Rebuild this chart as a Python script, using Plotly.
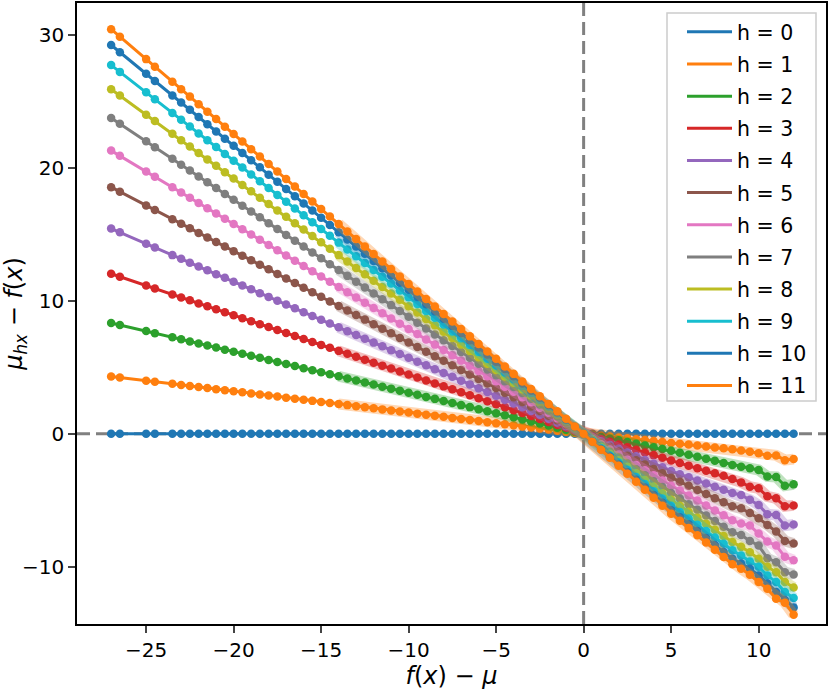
import plotly.graph_objects as go

# x positions: f(x) - mu
X = [-27, -26.5, -25, -24.5, -23.5, -23, -22.5, -22, -21.5, -21, -20.5, -20,
     -19.5, -19, -18.5, -18, -17.5, -17, -16.5, -16, -15.5, -15, -14.5, -14,
     -13.5, -13, -12.5, -12, -11.5, -11, -10.5, -10, -9.5, -9, -8.5, -8,
     -7.5, -7, -6.5, -6, -5.5, -5, -4.5, -4, -3.5, -3, -2.5, -2, -1.5, -1, -0.5, 0,
     0.5, 1, 1.5, 2, 2.5, 3, 3.5, 4, 4.5, 5, 5.5, 6,
     6.5, 7, 7.5, 8, 8.5, 9, 9.5, 10, 10.5, 11, 11.5, 12]

Y_H0 = [0.0, 0.0, 0.0, 0.0, 0.0, 0.0, 0.0, 0.0, 0.0, 0.0, 0.0, 0.0,
        0.0, 0.0, 0.0, 0.0, 0.0, 0.0, 0.0, 0.0, 0.0, 0.0, 0.0, 0.0,
        0.0, 0.0, 0.0, 0.0, 0.0, 0.0, 0.0, 0.0, 0.0, 0.0, 0.0, 0.0,
        0.0, 0.0, 0.0, 0.0, 0.0, 0.0, 0.0, 0.0, 0.0, 0.0, 0.0, 0.0, 0.0, 0.0, 0.0, 0.0,
        0.0, 0.0, 0.0, 0.0, 0.0, 0.0, 0.0, 0.0, 0.0, 0.0, 0.0, 0.0,
        0.0, 0.0, 0.0, 0.0, 0.0, 0.0, 0.0, 0.0, 0.0, 0.0, 0.0, 0.0]

Y_H1 = [4.32, 4.24, 4.00, 3.92, 3.76, 3.68, 3.60, 3.52, 3.44, 3.36, 3.28, 3.20,
        3.12, 3.04, 2.96, 2.88, 2.80, 2.72, 2.64, 2.56, 2.48, 2.40, 2.32, 2.24,
        2.16, 2.08, 2.00, 1.92, 1.84, 1.76, 1.68, 1.60, 1.52, 1.44, 1.36, 1.28,
        1.20, 1.12, 1.04, 0.96, 0.88, 0.80, 0.72, 0.64, 0.56, 0.48, 0.40, 0.32, 0.24, 0.16, 0.08, 0.00,
        -0.07, -0.14, -0.20, -0.27, -0.34, -0.41, -0.47, -0.54, -0.61, -0.68, -0.75, -0.81,
        -0.88, -0.95, -1.02, -1.08, -1.15, -1.25, -1.35, -1.45, -1.65, -1.62, -1.98, -1.90]

Y_H2 = [8.34, 8.19, 7.73, 7.57, 7.26, 7.11, 6.95, 6.80, 6.64, 6.49, 6.33, 6.18,
        6.03, 5.87, 5.72, 5.56, 5.41, 5.25, 5.10, 4.94, 4.79, 4.64, 4.48, 4.33,
        4.17, 4.02, 3.86, 3.71, 3.55, 3.40, 3.24, 3.09, 2.94, 2.78, 2.63, 2.47,
        2.32, 2.16, 2.01, 1.85, 1.70, 1.55, 1.39, 1.24, 1.08, 0.93, 0.77, 0.62, 0.46, 0.31, 0.15, 0.00,
        -0.12, -0.24, -0.37, -0.49, -0.62, -0.75, -0.88, -1.01, -1.14, -1.28, -1.43, -1.58,
        -1.73, -1.88, -2.03, -2.19, -2.34, -2.47, -2.59, -2.72, -3.20, -3.24, -3.90, -3.80]

Y_H3 = [12.04, 11.82, 11.15, 10.93, 10.48, 10.26, 10.04, 9.81, 9.59, 9.37, 9.14, 8.92,
        8.70, 8.47, 8.25, 8.03, 7.81, 7.58, 7.36, 7.14, 6.91, 6.69, 6.47, 6.24,
        6.02, 5.80, 5.58, 5.35, 5.13, 4.91, 4.68, 4.46, 4.24, 4.01, 3.79, 3.57,
        3.35, 3.12, 2.90, 2.68, 2.45, 2.23, 2.01, 1.78, 1.56, 1.34, 1.12, 0.89, 0.67, 0.45, 0.22, 0.00,
        -0.20, -0.40, -0.60, -0.80, -1.00, -1.20, -1.40, -1.60, -1.80, -2.00, -2.19, -2.39,
        -2.58, -2.77, -2.96, -3.16, -3.40, -3.65, -3.98, -4.10, -4.70, -4.85, -5.45, -5.38]

Y_H4 = [15.44, 15.16, 14.30, 14.01, 13.44, 13.16, 12.87, 12.58, 12.30, 12.01, 11.73, 11.44,
        11.15, 10.87, 10.58, 10.30, 10.01, 9.72, 9.44, 9.15, 8.87, 8.58, 8.29, 8.01,
        7.72, 7.44, 7.15, 6.86, 6.58, 6.29, 6.01, 5.72, 5.43, 5.15, 4.86, 4.58,
        4.29, 4.00, 3.72, 3.43, 3.15, 2.86, 2.57, 2.29, 2.00, 1.72, 1.43, 1.14, 0.86, 0.57, 0.29, 0.00,
        -0.28, -0.56, -0.84, -1.12, -1.40, -1.68, -1.96, -2.24, -2.52, -2.80, -3.04, -3.27,
        -3.51, -3.74, -3.98, -4.21, -4.45, -4.60, -4.95, -5.35, -6.05, -6.10, -6.90, -6.82]

Y_H5 = [18.55, 18.21, 17.18, 16.83, 16.14, 15.80, 15.46, 15.11, 14.77, 14.43, 14.08, 13.74,
        13.40, 13.05, 12.71, 12.37, 12.02, 11.68, 11.34, 10.99, 10.65, 10.31, 9.96, 9.62,
        9.27, 8.93, 8.59, 8.24, 7.90, 7.56, 7.21, 6.87, 6.53, 6.18, 5.84, 5.50,
        5.15, 4.81, 4.47, 4.12, 3.78, 3.44, 3.09, 2.75, 2.40, 2.06, 1.72, 1.37, 1.03, 0.69, 0.34, 0.00,
        -0.33, -0.66, -0.99, -1.32, -1.65, -1.98, -2.31, -2.64, -2.97, -3.30, -3.61, -3.91,
        -4.22, -4.53, -4.84, -5.14, -5.45, -5.60, -5.95, -6.35, -6.85, -7.35, -8.05, -8.25]

Y_H6 = [21.30, 20.91, 19.73, 19.33, 18.54, 18.15, 17.75, 17.36, 16.96, 16.57, 16.17, 15.78,
        15.39, 14.99, 14.60, 14.20, 13.81, 13.41, 13.02, 12.62, 12.23, 11.84, 11.44, 11.05,
        10.65, 10.26, 9.86, 9.47, 9.07, 8.68, 8.28, 7.89, 7.50, 7.10, 6.71, 6.31,
        5.92, 5.52, 5.13, 4.73, 4.34, 3.95, 3.55, 3.16, 2.76, 2.37, 1.97, 1.58, 1.18, 0.79, 0.39, 0.00,
        -0.39, -0.78, -1.17, -1.56, -1.95, -2.34, -2.73, -3.12, -3.51, -3.90, -4.27, -4.64,
        -5.01, -5.39, -5.76, -6.13, -6.50, -6.75, -6.90, -7.50, -8.10, -8.40, -9.25, -9.50]

Y_H7 = [23.76, 23.32, 22.00, 21.56, 20.68, 20.24, 19.80, 19.36, 18.92, 18.48, 18.04, 17.60,
        17.16, 16.72, 16.28, 15.84, 15.40, 14.96, 14.52, 14.08, 13.64, 13.20, 12.76, 12.32,
        11.88, 11.44, 11.00, 10.56, 10.12, 9.68, 9.24, 8.80, 8.36, 7.92, 7.48, 7.04,
        6.60, 6.16, 5.72, 5.28, 4.84, 4.40, 3.96, 3.52, 3.08, 2.64, 2.20, 1.76, 1.32, 0.88, 0.44, 0.00,
        -0.45, -0.89, -1.34, -1.78, -2.23, -2.67, -3.12, -3.56, -4.00, -4.45, -4.87, -5.29,
        -5.71, -6.14, -6.56, -6.98, -7.40, -7.60, -8.05, -8.40, -9.35, -9.65, -10.40, -10.57]

Y_H8 = [25.92, 25.44, 24.00, 23.52, 22.56, 22.08, 21.60, 21.12, 20.64, 20.16, 19.68, 19.20,
        18.72, 18.24, 17.76, 17.28, 16.80, 16.32, 15.84, 15.36, 14.88, 14.40, 13.92, 13.44,
        12.96, 12.48, 12.00, 11.52, 11.04, 10.56, 10.08, 9.60, 9.12, 8.64, 8.16, 7.68,
        7.20, 6.72, 6.24, 5.76, 5.28, 4.80, 4.32, 3.84, 3.36, 2.88, 2.40, 1.92, 1.44, 0.96, 0.48, 0.00,
        -0.50, -0.99, -1.49, -1.98, -2.48, -2.97, -3.47, -3.96, -4.46, -4.95, -5.40, -5.86,
        -6.31, -6.77, -7.22, -7.68, -8.13, -8.50, -8.90, -9.40, -10.00, -10.40, -11.15, -11.55]

Y_H9 = [27.73, 27.22, 25.68, 25.16, 24.13, 23.62, 23.11, 22.59, 22.08, 21.57, 21.05, 20.54,
        20.03, 19.51, 19.00, 18.49, 17.97, 17.46, 16.95, 16.43, 15.92, 15.41, 14.89, 14.38,
        13.86, 13.35, 12.84, 12.32, 11.81, 11.30, 10.78, 10.27, 9.76, 9.24, 8.73, 8.22,
        7.70, 7.19, 6.68, 6.16, 5.65, 5.14, 4.62, 4.11, 3.59, 3.08, 2.57, 2.05, 1.54, 1.03, 0.51, 0.00,
        -0.54, -1.08, -1.62, -2.16, -2.70, -3.24, -3.78, -4.32, -4.86, -5.40, -5.88, -6.36,
        -6.84, -7.31, -7.79, -8.27, -8.75, -9.15, -9.60, -10.00, -10.65, -11.15, -11.90, -12.35]

Y_H10 = [29.24, 28.70, 27.08, 26.53, 25.45, 24.91, 24.37, 23.83, 23.28, 22.74, 22.20, 21.66,
         21.12, 20.58, 20.04, 19.49, 18.95, 18.41, 17.87, 17.33, 16.79, 16.25, 15.70, 15.16,
         14.62, 14.08, 13.54, 13.00, 12.45, 11.91, 11.37, 10.83, 10.29, 9.75, 9.21, 8.66,
         8.12, 7.58, 7.04, 6.50, 5.96, 5.42, 4.87, 4.33, 3.79, 3.25, 2.71, 2.17, 1.62, 1.08, 0.54, 0.00,
         -0.58, -1.15, -1.73, -2.30, -2.88, -3.45, -4.03, -4.60, -5.18, -5.75, -6.27, -6.79,
         -7.31, -7.84, -8.36, -8.88, -9.40, -9.75, -10.15, -10.65, -11.25, -11.90, -12.50, -13.05]

Y_H11 = [30.43, 29.87, 28.18, 27.61, 26.48, 25.92, 25.36, 24.79, 24.23, 23.67, 23.10, 22.54,
         21.98, 21.41, 20.85, 20.29, 19.72, 19.16, 18.60, 18.03, 17.47, 16.91, 16.34, 15.78,
         15.21, 14.65, 14.09, 13.52, 12.96, 12.40, 11.83, 11.27, 10.71, 10.14, 9.58, 9.02,
         8.45, 7.89, 7.33, 6.76, 6.20, 5.64, 5.07, 4.51, 3.94, 3.38, 2.82, 2.25, 1.69, 1.13, 0.56, 0.00,
         -0.60, -1.20, -1.80, -2.40, -3.00, -3.60, -4.20, -4.80, -5.40, -6.00, -6.54, -7.09,
         -7.63, -8.17, -8.71, -9.26, -9.80, -10.15, -10.60, -11.15, -11.65, -12.40, -12.70, -13.60]

SERIES = [Y_H0, Y_H1, Y_H2, Y_H3, Y_H4, Y_H5, Y_H6, Y_H7, Y_H8, Y_H9, Y_H10, Y_H11]
LABELS = ["h = %d" % i for i in range(len(SERIES))]
X_TICKS = [-25, -20, -15, -10, -5, 0, 5, 10]
Y_TICKS = [-10, 0, 10, 20, 30]

for s in SERIES:
    assert len(s) == len(X), len(s)

COLORS = ["#1f77b4", "#ff7f0e", "#2ca02c", "#d62728", "#9467bd", "#8c564b",
          "#e377c2", "#7f7f7f", "#bcbd22", "#17becf", "#1f77b4", "#ff7f0e"]


def rgba(hex_color, a):
    h = hex_color.lstrip("#")
    return "rgba(%d,%d,%d,%.2f)" % (int(h[0:2], 16), int(h[2:4], 16), int(h[4:6], 16), a)


# plot-area geometry in pixels (for legend frame placement)
L, R, T, B = 77, 826, 3, 624
W_PLOT, H_PLOT = R - L, B - T

fig = go.Figure()
BAND_FROM = -14
for i, (ys, lab, col) in enumerate(zip(SERIES, LABELS, COLORS)):
    bx = [x for x in X if x >= BAND_FROM]
    by = [y for x, y in zip(X, ys) if x >= BAND_FROM]
    if i > 0:
        fig.add_trace(go.Scatter(x=bx, y=by, mode="lines", showlegend=False,
                                 hoverinfo="skip",
                                 line=dict(color=rgba(col, 0.3), width=11)))
    fig.add_trace(go.Scatter(x=X, y=ys, mode="lines", name=lab, legendgroup=lab,
                             line=dict(color=col, width=3)))
    fig.add_trace(go.Scatter(x=X, y=ys, mode="markers", showlegend=False,
                             legendgroup=lab,
                             marker=dict(color=col, size=8.5, line=dict(width=0))))

# dashed reference lines
fig.add_shape(type="line", xref="x", yref="paper", x0=0, x1=0, y0=0, y1=1,
              line=dict(color="#808080", width=3, dash="13px,6px"), layer="below")
fig.add_shape(type="line", xref="paper", yref="y", x0=0, x1=1, y0=0, y1=0,
              line=dict(color="#808080", width=3, dash="13px,6px"), layer="below")

# legend frame
fig.add_shape(type="rect", xref="paper", yref="paper",
              x0=(667 - L) / W_PLOT, x1=(816 - L) / W_PLOT,
              y0=1 - (401 - T) / H_PLOT, y1=1 - (13 - T) / H_PLOT,
              line=dict(color="#cccccc", width=1.5), fillcolor="rgba(255,255,255,0.8)",
              layer="above")

fig.update_layout(
    width=830, height=693,
    margin=dict(l=L, r=830 - R, t=T, b=693 - B),
    plot_bgcolor="white", paper_bgcolor="white",
    font=dict(family="DejaVu Sans", size=20, color="black"),
    legend=dict(x=(682 - L) / W_PLOT, y=1 - (12 - T) / H_PLOT, xanchor="left", yanchor="top",
                bgcolor="rgba(0,0,0,0)", borderwidth=0, itemwidth=45,
                font=dict(size=20.5), tracegroupgap=2.5, traceorder="grouped"),
    xaxis=dict(range=[-28.95, 13.85], tickvals=X_TICKS, ticks="outside", ticklen=7,
               tickwidth=1.6, showline=True, mirror=True, linecolor="black", linewidth=1.6,
               showgrid=False, zeroline=False, automargin=False,
               title=dict(text="<i>f</i>(<i>x</i>) − <i>μ</i>", standoff=0)),
    yaxis=dict(range=[-14.3, 32.4], tickvals=Y_TICKS, ticks="outside", ticklen=7,
               tickwidth=1.6, showline=True, mirror=True, linecolor="black", linewidth=1.6,
               showgrid=False, zeroline=False, automargin=False,
               title=dict(text="<i>μ<sub>hx</sub></i> − <i>f</i>(<i>x</i>)", standoff=11)),
)

fig.write_html("out.html", config={"displayModeBar": False},
               post_script="document.body.style.margin='0px';")
